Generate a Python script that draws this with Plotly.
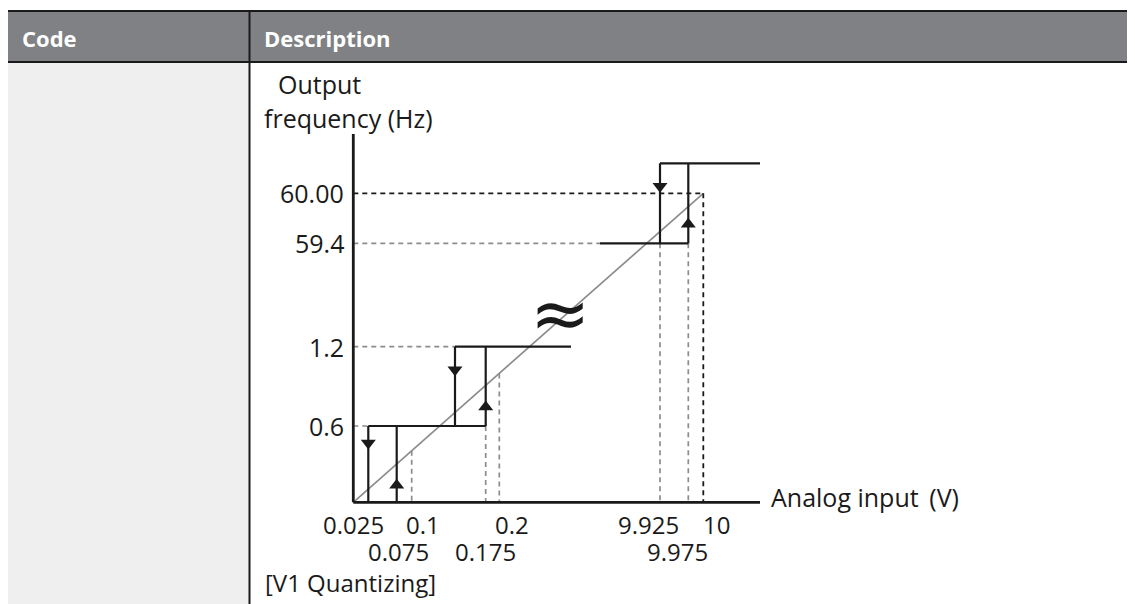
import numpy as np
import plotly.graph_objects as go

# ---- data ----
# output levels (Hz) and their labels on the vertical axis
y_levels = [0.6, 1.2, 59.4, 60.00]
y_labels = ["0.6", "1.2", "59.4", "60.00"]

# input thresholds (V): output rises at rise_x, falls back at fall_x
rise_x = [0.075, 0.175, 9.975]
fall_x = [0.025, 0.125, 9.925]
step_lo = [0.0, 0.6, 59.4]
step_hi = [0.6, 1.2, 60.6]

# tick labels on the horizontal axis (two rows)
x_row1 = [0.025, 0.1, 0.2, 9.925, 10]
x_row1_text = ["0.025", "0.1", "0.2", "9.925", "10"]
x_row2 = [0.075, 0.175, 9.975]
x_row2_text = ["0.075", "0.175", "9.975"]

# quantizing reference points on the ideal line
ideal_x = [0.1, 0.2]

# ---- schematic (broken) scale: value -> page pixel ----
X_KNOT_V = [0, 0.025, 0.075, 0.1, 0.125, 0.175, 0.2, 9.925, 9.975, 10]
X_KNOT_P = [353.3, 368.3, 396.7, 411.7, 455, 485.7, 499.3, 660, 688.3, 703.3]
Y_KNOT_V = [0, 0.6, 1.2, 59.4, 60, 60.6]
Y_KNOT_P = [502.3, 426, 346.7, 243.3, 193.3, 163.3]
X_AXIS_END = 760
Y_AXIS_TOP = 134
LO_STUB_END = 571
HI_STUB_START = 600

W, H = 1135, 604
PAGE_PAD = 8  # browser body margin around the plot div
FONT = "Open Sans"
BLACK = "#1a1a1a"
GREY = "#8c8c8c"


def sx(v):
    return float(np.interp(v, X_KNOT_V, X_KNOT_P))


def sy(v):
    return float(np.interp(v, Y_KNOT_V, Y_KNOT_P))


def on_ideal(px):
    # y pixel of the ideal 0..10 V -> 0..60 Hz line at pixel px
    x0, y0, x1, y1 = sx(0), sy(0), sx(10), sy(60)
    return y0 + (px - x0) * (y1 - y0) / (x1 - x0)


def segs(pairs):
    xs, ys = [], []
    for (xa, ya), (xb, yb) in pairs:
        xs += [xa, xb, None]
        ys += [ya, yb, None]
    return xs, ys


fig = go.Figure()


def add_lines(pairs, color, width, dash="solid"):
    xs, ys = segs(pairs)
    fig.add_trace(go.Scatter(x=xs, y=ys, mode="lines", hoverinfo="skip",
                             line=dict(color=color, width=width, dash=dash)))


# ideal line
add_lines([((sx(0), sy(0)), (sx(10), sy(60)))], GREY, 1.7)

# grey dashed guides
g = []
g.append(((sx(0), sy(0.6)), (sx(fall_x[0]), sy(0.6))))
g.append(((sx(0), sy(1.2)), (sx(fall_x[1]), sy(1.2))))
g.append(((sx(0), sy(59.4)), (HI_STUB_START, sy(59.4))))
for v in ideal_x:
    g.append(((sx(v), on_ideal(sx(v))), (sx(v), sy(0))))
g.append(((sx(rise_x[1]), sy(0.6)), (sx(rise_x[1]), sy(0))))
for v in [fall_x[2], rise_x[2]]:
    g.append(((sx(v), sy(59.4)), (sx(v), sy(0))))
add_lines(g, GREY, 1.7, "5px,4px")

# black dashed 60 Hz / 10 V guide
add_lines([((sx(0), sy(60)), (sx(10), sy(60))),
           ((sx(10), sy(60)), (sx(10), sy(0)))], BLACK, 1.8, "5px,4px")

# hysteresis steps
s = []
for i in range(3):
    s.append(((sx(fall_x[i]), sy(step_lo[i])), (sx(fall_x[i]), sy(step_hi[i]))))
    s.append(((sx(rise_x[i]), sy(step_lo[i])), (sx(rise_x[i]), sy(step_hi[i]))))
s.append(((sx(fall_x[0]), sy(0.6)), (sx(rise_x[1]), sy(0.6))))
s.append(((sx(fall_x[1]), sy(1.2)), (LO_STUB_END, sy(1.2))))
s.append(((HI_STUB_START, sy(59.4)), (sx(rise_x[2]), sy(59.4))))
s.append(((sx(fall_x[2]), sy(60.6)), (X_AXIS_END, sy(60.6))))
add_lines(s, BLACK, 2.2)

# axes
add_lines([((sx(0), Y_AXIS_TOP), (sx(0), sy(0))),
           ((sx(0), sy(0)), (X_AXIS_END, sy(0)))], BLACK, 2.8)

# direction arrows
down_off = [17, 23, 23]
up_off = [17, 19, 19]
fig.add_trace(go.Scatter(
    x=[sx(v) for v in fall_x],
    y=[sy(step_hi[i]) + down_off[i] for i in range(3)],
    mode="markers", hoverinfo="skip",
    marker=dict(symbol="triangle-down", size=13, color=BLACK, line_width=0)))
fig.add_trace(go.Scatter(
    x=[sx(v) for v in rise_x],
    y=[sy(step_lo[i]) - up_off[i] for i in range(3)],
    mode="markers", hoverinfo="skip",
    marker=dict(symbol="triangle-up", size=13, color=BLACK, line_width=0)))

# ---- table frame ----
shapes = [
    dict(type="rect", x0=8, x1=W + 20, y0=11, y1=62, fillcolor="#808184", line_width=0, layer="below"),
    dict(type="rect", x0=8, x1=249, y0=62, y1=H + 20, fillcolor="#efefef", line_width=0, layer="below"),
    dict(type="line", x0=8, x1=W + 20, y0=11, y1=11, line=dict(color=BLACK, width=2)),
    dict(type="line", x0=8, x1=W + 20, y0=62, y1=62, line=dict(color=BLACK, width=2)),
    dict(type="line", x0=249.5, x1=249.5, y0=11, y1=H + 20, line=dict(color=BLACK, width=2)),
]

ann = []


def text(x, y, t, size=25, xanchor="center", color=BLACK, family=FONT, height=None):
    ann.append(dict(x=x, y=y, text=t, showarrow=False, xanchor=xanchor, yanchor="middle",
                    height=height, font=dict(family=family, size=size, color=color)))


text(20, 38, "<b>Code</b>", 22, "left", "white")
text(262, 38, "<b>Description</b>", 22, "left", "white")
text(276, 84, "Output", 25, "left")
text(262, 118, "frequency (Hz)", 25, "left")
text(769, 497, "Analog input\u2009 (V)", 25, "left")
text(263, 582, "[V1 Quantizing]", 24, "left")
text(560, 313, "\u2248", 72, family="DejaVu Sans")

for v, t in zip(y_levels, y_labels):
    text(346, sy(v), t, 25, "right")

# the two label rows sit close together, so keep their boxes tight
row1_shift = [-15, 11, 13, -12, 13]
for v, t, d in zip(x_row1, x_row1_text, row1_shift):
    text(sx(v) + d, 524, t, 24, height=26)
row2_shift = [2, 0, -11]
for v, t, d in zip(x_row2, x_row2_text, row2_shift):
    text(sx(v) + d, 551, t, 24, height=26)

# axis ranges shifted by the page padding so that values land on page pixels
fig.update_layout(
    width=W, height=H,
    margin=dict(l=0, r=0, t=0, b=0),
    paper_bgcolor="white", plot_bgcolor="white",
    showlegend=False,
    xaxis=dict(range=[PAGE_PAD, W + PAGE_PAD], visible=False, fixedrange=True),
    yaxis=dict(range=[H + PAGE_PAD, PAGE_PAD], visible=False, fixedrange=True),
    shapes=shapes, annotations=ann,
)

fig.write_html("out.html")
